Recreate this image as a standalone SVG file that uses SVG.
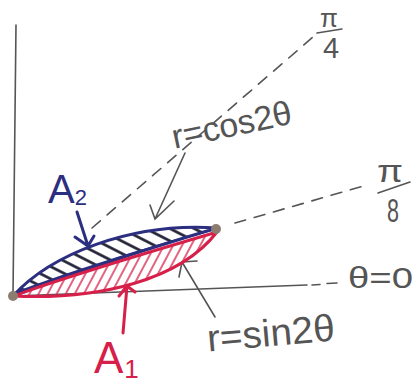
<svg xmlns="http://www.w3.org/2000/svg" width="417" height="385" viewBox="0 0 417 385">
<style>
.pencil{stroke:#555;stroke-width:1.6;fill:none;stroke-linecap:round}
.dash{stroke:#555;stroke-width:1.6;fill:none;stroke-dasharray:11 9;stroke-linecap:round}
.gt{font-family:"Liberation Sans",Arial,sans-serif;fill:#555}
.blue{stroke:#2c2f80;stroke-width:3;fill:none;stroke-linecap:round;stroke-linejoin:round}
.red{stroke:#d6204a;stroke-width:3;fill:none;stroke-linecap:round;stroke-linejoin:round}
.bt{font-family:"Liberation Sans",Arial,sans-serif;fill:#2c2f80}
.rt{font-family:"Liberation Sans",Arial,sans-serif;fill:#d6204a}
.dot{fill:#8c7d70}
</style>
<defs>
<pattern id="hb" width="11" height="11" patternUnits="userSpaceOnUse" patternTransform="rotate(27)">
<line x1="0" y1="5.5" x2="11" y2="5.5" stroke="#1a1a2e" stroke-width="2.6"/>
</pattern>
<pattern id="hr" width="8" height="8" patternUnits="userSpaceOnUse" patternTransform="rotate(-62)">
<line x1="0" y1="4" x2="8" y2="4" stroke="#d6204a" stroke-width="1.4"/>
</pattern>
<clipPath id="cb"><path d="M13,296 C50,255 130,222 217,228 C150,248 80,270 13,296 Z"/></clipPath>
<clipPath id="cr"><path d="M13,296 C80,272 150,252 217,232 C180,280 100,300 13,296 Z"/></clipPath>
</defs>

<g id="axes">
<line class="pencil" x1="16" y1="25" x2="13" y2="294"/>
<line class="pencil" x1="13" y1="296" x2="307" y2="285"/>
<line class="pencil" x1="312" y1="285" x2="320" y2="284.5"/>
<line class="pencil" x1="327" y1="283.5" x2="337" y2="283"/>
</g>

<g id="connectors">
<line class="dash" x1="92" y1="228" x2="313" y2="37"/>
<line class="dash" x1="235" y1="223" x2="367" y2="185"/>
<path class="pencil" d="M185,153 L155,219 M150,205 L155,219 L174,201"/>
<path class="pencil" d="M215,317 L182,262 M197,261 L182,262 L179,277"/>
<path class="blue" d="M77,212 L88,246 M75,237 L88,246 L94,236"/>
<path class="red" d="M123,333 L127,286 M119,296 L127,286 L135,292"/>
</g>

<g id="A2-region">
<rect x="0" y="200" width="240" height="110" fill="url(#hb)" clip-path="url(#cb)"/>
<path class="blue" d="M13,296 C50,255 130,222 217,228 C150,248 80,270 13,296 Z"/>
</g>

<g id="A1-region">
<rect x="0" y="200" width="240" height="110" fill="url(#hr)" clip-path="url(#cr)"/>
<path class="red" d="M13,296 C80,272 150,252 217,232 C180,280 100,300 13,296 Z"/>
<path d="M15,293 C80,268 150,248 215,229" stroke="#2c2f80" stroke-width="2" fill="none"/>
</g>

<g id="points">
<circle class="dot" cx="13" cy="296" r="5"/>
<circle class="dot" cx="216" cy="229" r="5"/>
</g>

<g id="label-pi4">
<text class="gt" x="329" y="27" font-size="26" text-anchor="middle">π</text>
<line class="pencil" x1="317" y1="33" x2="342" y2="29"/>
<text class="gt" x="331" y="58" font-size="29" text-anchor="middle">4</text>
</g>

<g id="label-pi8">
<text class="gt" x="390" y="182" font-size="32" text-anchor="middle" textLength="26" lengthAdjust="spacingAndGlyphs">π</text>
<line class="pencil" x1="378" y1="193" x2="410" y2="182"/>
<text class="gt" x="387" y="222" font-size="34" textLength="12" lengthAdjust="spacingAndGlyphs">8</text>
</g>

<g id="label-theta0">
<text class="gt" x="348" y="288" font-size="30" textLength="65" lengthAdjust="spacingAndGlyphs">θ=0</text>
</g>

<g id="label-cos">
<text class="gt" x="234" y="136" font-size="34" text-anchor="middle" transform="rotate(-12 234 136)">r=cos2θ</text>
</g>

<g id="label-sin">
<text class="gt" x="272" y="346" font-size="38" text-anchor="middle" transform="rotate(-5 272 346)" textLength="128" lengthAdjust="spacingAndGlyphs">r=sin2θ</text>
</g>

<g id="label-A2">
<text class="bt" x="48" y="203" font-size="40">A<tspan font-size="22" dy="2">2</tspan></text>
</g>

<g id="label-A1">
<text class="rt" x="94" y="373" font-size="44">A<tspan font-size="26" dy="5" dx="1">1</tspan></text>
</g>
</svg>
